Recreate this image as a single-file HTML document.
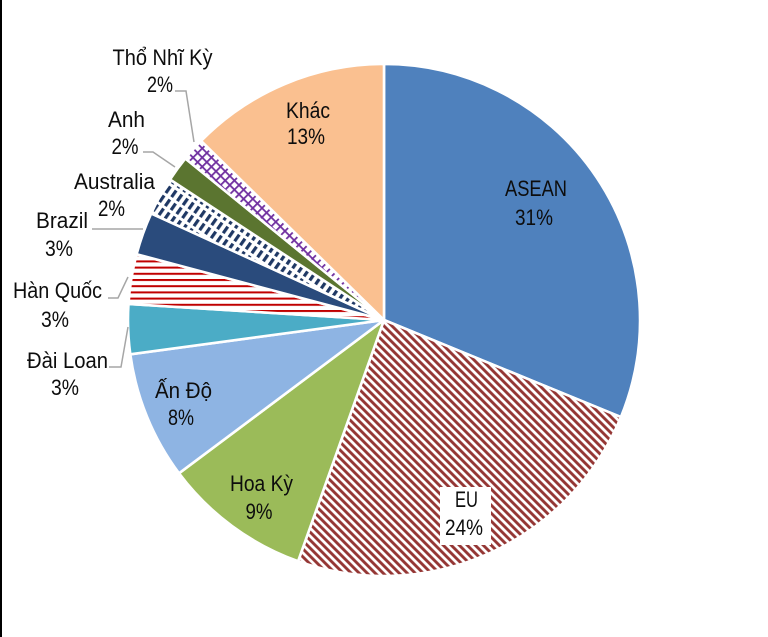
<!DOCTYPE html>
<html>
<head>
<meta charset="utf-8">
<style>
  html, body { margin: 0; padding: 0; background: #ffffff; }
  svg { display: block; }
  text { font-family: "Liberation Sans", "DejaVu Sans", sans-serif; font-size: 22px; fill: #0d0d0d; }
</style>
</head>
<body>
<svg width="768" height="637" viewBox="0 0 768 637" xmlns="http://www.w3.org/2000/svg">
  <defs>
    <pattern id="pEU" patternUnits="userSpaceOnUse" width="5.657" height="10" patternTransform="rotate(-45)">
      <rect width="5.657" height="10" fill="#ffffff"/>
      <rect x="0" y="0" width="2.9" height="10" fill="#953735"/>
    </pattern>
    <pattern id="pHQ" patternUnits="userSpaceOnUse" width="10" height="6.2">
      <rect width="10" height="6.2" fill="#ffffff"/>
      <rect x="0" y="0" width="10" height="2" fill="#C00000"/>
    </pattern>
    <pattern id="pAU" patternUnits="userSpaceOnUse" width="7" height="11" patternTransform="rotate(35)">
      <rect width="7" height="11" fill="#ffffff"/>
      <rect x="0" y="0" width="3.2" height="8" fill="#1F3864"/>
    </pattern>
    <pattern id="pTK" patternUnits="userSpaceOnUse" width="6.5" height="6.5" patternTransform="rotate(45)">
      <rect width="6.5" height="6.5" fill="#ffffff"/>
      <rect x="0" y="0" width="6.5" height="1.8" fill="#7030A0"/>
      <rect x="0" y="0" width="1.8" height="6.5" fill="#7030A0"/>
    </pattern>
  </defs>

  <rect x="0" y="0" width="768" height="637" fill="#ffffff"/>
  <line x1="1" y1="0" x2="1" y2="637" stroke="#000000" stroke-width="2"/>

  <g stroke="#ffffff" stroke-width="2.6" stroke-linejoin="round">
    <path d="M384,320 L384,64 A256,256 0 0 1 620.9,417.1 Z" fill="#4F81BD"/>
    <path d="M384,320 L620.9,417.1 A256,256 0 0 1 298.1,561.2 Z" fill="url(#pEU)"/>
    <path d="M384,320 L298.1,561.2 A256,256 0 0 1 179.0,473.3 Z" fill="#9BBB59"/>
    <path d="M384,320 L179.0,473.3 A256,256 0 0 1 130.3,354.3 Z" fill="#8EB4E3"/>
    <path d="M384,320 L130.3,354.3 A256,256 0 0 1 128.5,303.9 Z" fill="#4BACC6"/>
    <path d="M384,320 L128.5,303.9 A256,256 0 0 1 136.6,254.2 Z" fill="url(#pHQ)"/>
    <path d="M384,320 L136.6,254.2 A256,256 0 0 1 151.2,213.4 Z" fill="#2A4B7C"/>
    <path d="M384,320 L151.2,213.4 A256,256 0 0 1 170.0,179.5 Z" fill="url(#pAU)"/>
    <path d="M384,320 L170.0,179.5 A256,256 0 0 1 185.3,158.5 Z" fill="#5B7530"/>
    <path d="M384,320 L185.3,158.5 A256,256 0 0 1 201.1,140.9 Z" fill="url(#pTK)"/>
    <path d="M384,320 L201.1,140.9 A256,256 0 0 1 384,64 Z" fill="#FAC090"/>
  </g>

  <g stroke="#A6A6A6" stroke-width="1.5" fill="none">
    <polyline points="175,91 186,91 194,142"/>
    <polyline points="143,152 153,152 175,167"/>
    <polyline points="92,229 143,229"/>
    <polyline points="108,298 118,298 128,277"/>
    <polyline points="109,367 121,367 128,327"/>
  </g>

  <rect x="440" y="487" width="51" height="58" fill="#ffffff"/>

  <g text-anchor="middle">
    <text x="536" y="196" textLength="62" lengthAdjust="spacingAndGlyphs">ASEAN</text>
    <text x="534" y="225" textLength="38" lengthAdjust="spacingAndGlyphs">31%</text>

    <text x="466.5" y="507" textLength="23" lengthAdjust="spacingAndGlyphs">EU</text>
    <text x="464" y="535" textLength="38" lengthAdjust="spacingAndGlyphs">24%</text>

    <text x="261.5" y="491" textLength="63" lengthAdjust="spacingAndGlyphs">Hoa Kỳ</text>
    <text x="259" y="519" textLength="27" lengthAdjust="spacingAndGlyphs">9%</text>

    <text x="183.5" y="398" textLength="57" lengthAdjust="spacingAndGlyphs">Ấn Độ</text>
    <text x="181" y="425" textLength="26" lengthAdjust="spacingAndGlyphs">8%</text>

    <text x="67.5" y="368" textLength="81" lengthAdjust="spacingAndGlyphs">Đài Loan</text>
    <text x="65" y="395" textLength="28" lengthAdjust="spacingAndGlyphs">3%</text>

    <text x="57.5" y="298" textLength="89" lengthAdjust="spacingAndGlyphs">Hàn Quốc</text>
    <text x="55" y="327" textLength="28" lengthAdjust="spacingAndGlyphs">3%</text>

    <text x="62" y="228" textLength="52" lengthAdjust="spacingAndGlyphs">Brazil</text>
    <text x="59" y="256" textLength="28" lengthAdjust="spacingAndGlyphs">3%</text>

    <text x="114.5" y="189" textLength="81" lengthAdjust="spacingAndGlyphs">Australia</text>
    <text x="111.5" y="216" textLength="27" lengthAdjust="spacingAndGlyphs">2%</text>

    <text x="126.5" y="127" textLength="37" lengthAdjust="spacingAndGlyphs">Anh</text>
    <text x="125" y="154" textLength="27" lengthAdjust="spacingAndGlyphs">2%</text>

    <text x="162.5" y="65" textLength="100" lengthAdjust="spacingAndGlyphs">Thổ Nhĩ Kỳ</text>
    <text x="160" y="92" textLength="26" lengthAdjust="spacingAndGlyphs">2%</text>

    <text x="308" y="118" textLength="44" lengthAdjust="spacingAndGlyphs">Khác</text>
    <text x="306" y="144" textLength="38" lengthAdjust="spacingAndGlyphs">13%</text>
  </g>
</svg>
</body>
</html>
